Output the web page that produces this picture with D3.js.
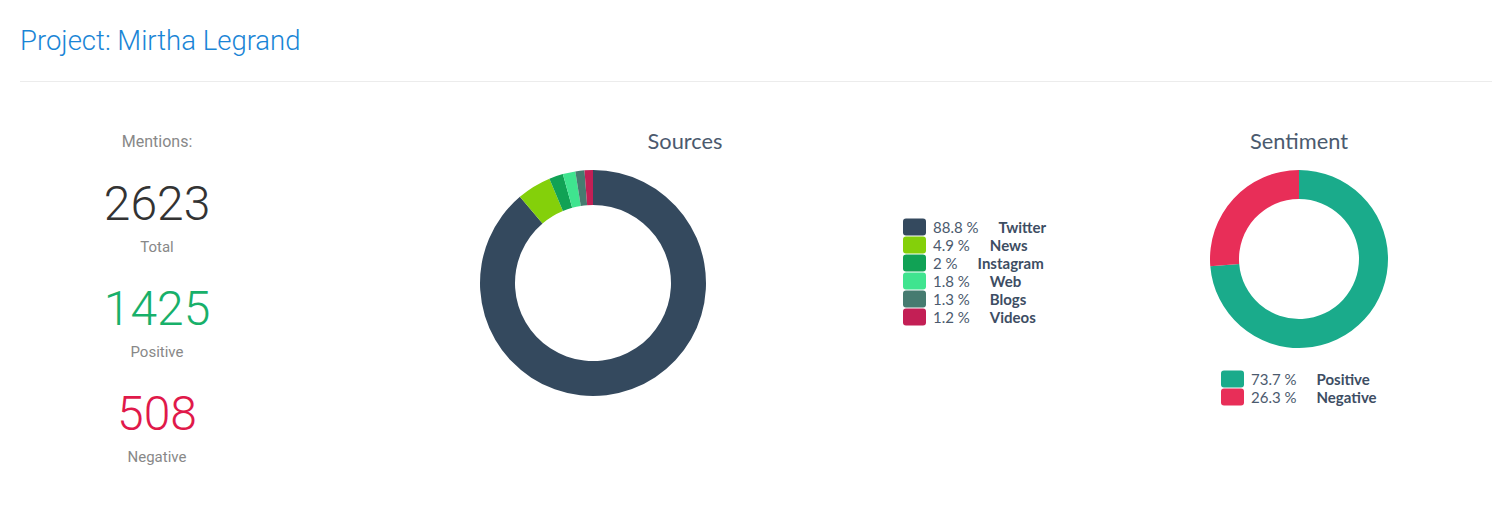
<!DOCTYPE html>
<html>
<head>
<meta charset="utf-8">
<script src="https://cdn.jsdelivr.net/npm/d3@7"></script>
<style>
  body { margin: 0; background: #fff; }
  svg { display: block; }
</style>
</head>
<body>
<div id="chart"></div>
<script>
const projectName = "Mirtha Legrand";

const mentionLabels = ["Total", "Positive", "Negative"];
const mentionValues = [2623, 1425, 508];
const mentionColors = ["#333333", "#18b06a", "#e0194a"];

const sourceNames = ["Twitter", "News", "Instagram", "Web", "Blogs", "Videos"];
const sourceShares = [88.8, 4.9, 2, 1.8, 1.3, 1.2];
const sourceColors = ["#34495e", "#84d00a", "#11a255", "#3fe48f", "#467b70", "#c31f55"];

const sentimentNames = ["Positive", "Negative"];
const sentimentShares = [73.7, 26.3];
const sentimentColors = ["#1aab8b", "#e82e58"];

const width = 1510, height = 508;
const svg = d3.select("#chart").append("svg")
    .attr("width", width)
    .attr("height", height);

svg.append("text")
    .attr("x", 20)
    .attr("y", 50)
    .attr("font-family", "Roboto, sans-serif")
    .attr("font-weight", 300)
    .attr("font-size", 27.5)
    .attr("fill", "#1a85d6")
    .text(`Project: ${projectName}`);

svg.append("line")
    .attr("x1", 20).attr("x2", 1492)
    .attr("y1", 81.5).attr("y2", 81.5)
    .attr("stroke", "#ececec");

// mentions column
const mentions = svg.append("g").attr("transform", "translate(157, 0)")
    .attr("font-family", "Roboto, sans-serif")
    .attr("text-anchor", "middle");

mentions.append("text")
    .attr("y", 147)
    .attr("font-size", 16)
    .attr("fill", "#888")
    .text("Mentions:");

const rowY = d3.scalePoint().domain(mentionLabels).range([220, 430]);
mentionLabels.forEach((label, i) => {
    mentions.append("text")
        .attr("y", rowY(label))
        .attr("font-size", 48)
        .attr("font-weight", 300)
        .attr("fill", mentionColors[i])
        .text(mentionValues[i]);
    mentions.append("text")
        .attr("y", rowY(label) + 32)
        .attr("font-size", 15)
        .attr("fill", "#888")
        .text(label);
});

function donut({ cx, cy, outer, inner, title, titleX, names, shares, colors, legendX, legendY }) {
    const pie = d3.pie().sort(null).value(d => d)(shares);
    const arc = d3.arc().innerRadius(inner).outerRadius(outer);
    const color = d3.scaleOrdinal().domain(names).range(colors);

    svg.append("text")
        .attr("x", titleX)
        .attr("y", 149)
        .attr("text-anchor", "middle")
        .attr("font-family", "Lato, sans-serif")
        .attr("font-size", 21.8)
        .attr("fill", "#4b5a6e")
        .text(title);

    svg.append("g")
        .attr("transform", `translate(${cx}, ${cy})`)
        .selectAll("path")
        .data(pie)
        .join("path")
        .attr("d", arc)
        .attr("fill", (d, i) => color(names[i]));

    const legend = svg.append("g")
        .attr("transform", `translate(${legendX}, ${legendY})`)
        .attr("font-family", "Lato, sans-serif")
        .attr("font-size", 15)
        .attr("fill", "#3d4d63");

    const row = legend.selectAll("g")
        .data(names)
        .join("g")
        .attr("transform", (d, i) => `translate(0, ${i * 18})`);

    row.append("rect")
        .attr("width", 23).attr("height", 17)
        .attr("y", -8.5)
        .attr("rx", 3)
        .attr("fill", d => color(d));

    const label = row.append("text")
        .attr("x", 30)
        .attr("dy", "0.42em");
    label.append("tspan")
        .attr("fill", "#4b5a6e")
        .text((d, i) => `${shares[i]} %`);
    label.append("tspan")
        .attr("dx", 20)
        .attr("font-weight", 700)
        .text(d => d);
}

donut({
    cx: 593, cy: 283, outer: 113, inner: 78,
    title: "Sources", titleX: 685,
    names: sourceNames, shares: sourceShares, colors: sourceColors,
    legendX: 903, legendY: 227
});

donut({
    cx: 1299, cy: 259, outer: 89, inner: 60,
    title: "Sentiment", titleX: 1299,
    names: sentimentNames, shares: sentimentShares, colors: sentimentColors,
    legendX: 1221, legendY: 379
});
</script>
</body>
</html>
